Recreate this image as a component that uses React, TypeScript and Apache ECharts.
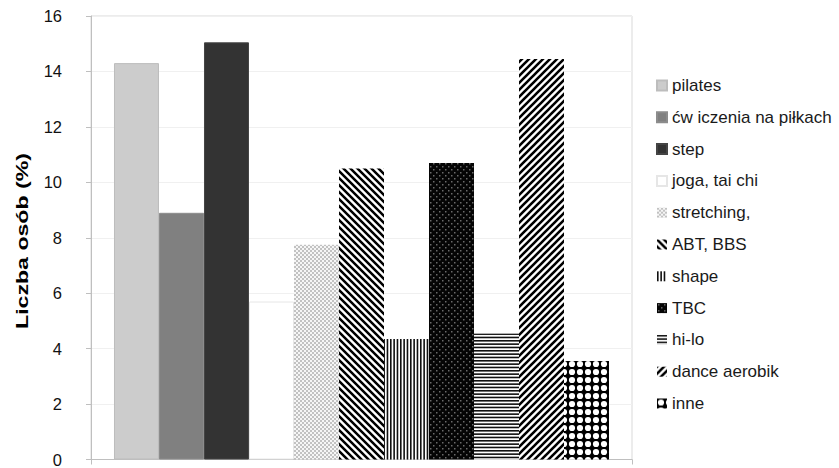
import React, { useEffect, useRef } from 'react';
import * as echarts from 'echarts';

const categories = [''];
const seriesNames = [
  'pilates',
  'ćw iczenia na piłkach',
  'step',
  'joga, tai chi',
  'stretching,',
  'ABT, BBS',
  'shape',
  'TBC',
  'hi-lo',
  'dance aerobik',
  'inne',
];
const seriesValues = [14.3, 8.9, 15.05, 5.7, 7.75, 10.5, 4.35, 10.7, 4.55, 14.45, 3.55];
const yMin = 0;
const yMax = 16;
const yInterval = 2;
const yAxisTitle = 'Liczba osób (%)';

const FONT = '"Liberation Sans", Arial, Helvetica, sans-serif';

type Draw = (ctx: CanvasRenderingContext2D, s: number) => void;

function makeTile(size: number, draw: Draw): any {
  const c = document.createElement('canvas');
  c.width = size;
  c.height = size;
  const ctx = c.getContext('2d') as CanvasRenderingContext2D;
  draw(ctx, size);
  return { image: c.toDataURL(), repeat: 'repeat', imageWidth: size, imageHeight: size };
}

function diagonal(dir: 1 | -1, lw: number, fg: string, bg: string): Draw {
  return (ctx, s) => {
    ctx.fillStyle = bg;
    ctx.fillRect(0, 0, s, s);
    ctx.strokeStyle = fg;
    ctx.lineWidth = lw;
    ctx.beginPath();
    for (let k = -3; k <= 3; k++) {
      if (dir === 1) {
        ctx.moveTo(k * s - s, -s);
        ctx.lineTo(k * s + 2 * s, 2 * s);
      } else {
        ctx.moveTo(k * s + s, -s);
        ctx.lineTo(k * s - 2 * s, 2 * s);
      }
    }
    ctx.stroke();
  };
}

function buildFills(): any[] {
  const stretching = makeTile(4, (ctx, s) => {
    ctx.fillStyle = '#f6f6f6';
    ctx.fillRect(0, 0, s, s);
    ctx.fillStyle = '#c2c2c2';
    ctx.fillRect(0, 0, 2, 2);
    ctx.fillRect(2, 2, 2, 2);
  });
  const abt = makeTile(7, diagonal(1, 2.5, '#000', '#fff'));
  const shape = makeTile(10, (ctx, s) => {
    ctx.fillStyle = '#fff';
    ctx.fillRect(0, 0, s, s);
    ctx.fillStyle = '#111';
    for (let i = 0; i < 3; i++) ctx.fillRect(i * (s / 3), 0, 1.6, s);
  });
  const tbc = makeTile(6, (ctx, s) => {
    ctx.fillStyle = '#050505';
    ctx.fillRect(0, 0, s, s);
    ctx.fillStyle = '#6a6a6a';
    ctx.fillRect(1, 1, 1.5, 1.5);
    ctx.fillRect(4, 4, 1.5, 1.5);
  });
  const hilo = makeTile(10, (ctx, s) => {
    ctx.fillStyle = '#fff';
    ctx.fillRect(0, 0, s, s);
    ctx.fillStyle = '#111';
    for (let i = 0; i < 3; i++) ctx.fillRect(0, i * (s / 3), s, 1.6);
  });
  const dance = makeTile(7, diagonal(-1, 2.6, '#000', '#fff'));
  const inne = makeTile(8, (ctx, s) => {
    ctx.fillStyle = '#000';
    ctx.fillRect(0, 0, s, s);
    ctx.fillStyle = '#fff';
    ctx.beginPath();
    ctx.arc(s / 2, s / 2, 3.1, 0, Math.PI * 2);
    ctx.fill();
  });
  return ['#cccccc', '#808080', '#333333', '#ffffff', stretching, abt, shape, tbc, hilo, dance, inne];
}

const borders = ['#bdbdbd', '#8c8c8c', '#444444', '#e6e6e6', null, null, null, null, null, null, null];

export default function App() {
  const ref = useRef<HTMLDivElement>(null);

  useEffect(() => {
    if (!ref.current) return;
    const chart = echarts.init(ref.current, undefined, { renderer: 'svg' });
    const fills = buildFills();

    chart.setOption({
      animation: false,
      backgroundColor: '#ffffff',
      grid: {
        left: 91,
        right: 207,
        top: 16,
        bottom: 4,
        show: true,
        borderColor: '#d9d9d9',
        borderWidth: 1,
        backgroundColor: 'transparent',
      },
      legend: {
        orient: 'vertical',
        left: 651,
        top: 72,
        icon: 'rect',
        itemWidth: 10,
        itemHeight: 10,
        itemGap: 14.8,
        textStyle: { fontSize: 17, color: '#1a1a1a', fontFamily: FONT },
        data: seriesNames,
      },
      xAxis: {
        type: 'category',
        data: categories,
        axisLine: { show: true, lineStyle: { color: '#bfbfbf' } },
        axisTick: { show: true, length: 5, lineStyle: { color: '#bfbfbf' } },
        axisLabel: { show: false },
        splitLine: { show: false },
      },
      yAxis: {
        type: 'value',
        min: yMin,
        max: yMax,
        interval: yInterval,
        axisLine: { show: true, lineStyle: { color: '#bfbfbf' } },
        axisTick: { show: true, length: 5, lineStyle: { color: '#bfbfbf' } },
        axisLabel: { margin: 29, fontSize: 16.5, color: '#111', fontFamily: FONT },
        splitLine: { show: true, lineStyle: { color: '#f0f0f0', width: 1 } },
      },
      graphic: [
        {
          type: 'text',
          x: 22.5,
          y: 241,
          rotation: Math.PI / 2,
          scaleX: 1.36,
          style: {
            text: yAxisTitle,
            font: 'bold 17px ' + FONT,
            fill: '#000',
            textAlign: 'center',
            textVerticalAlign: 'middle',
            align: 'center',
            verticalAlign: 'middle',
          },
        },
      ],
      series: seriesNames.map((name, i) => ({
        type: 'bar',
        name,
        data: [seriesValues[i]],
        barGap: '0%',
        barCategoryGap: '8.5%',
        itemStyle: {
          color: fills[i],
          borderColor: borders[i] || undefined,
          borderWidth: borders[i] ? 1 : 0,
        },
      })),
    });

    return () => {
      chart.dispose();
    };
  }, []);

  return (
    <div
      ref={ref}
      style={{ position: 'fixed', left: 0, top: 0, width: 839, height: 468, background: '#fff' }}
    />
  );
}
